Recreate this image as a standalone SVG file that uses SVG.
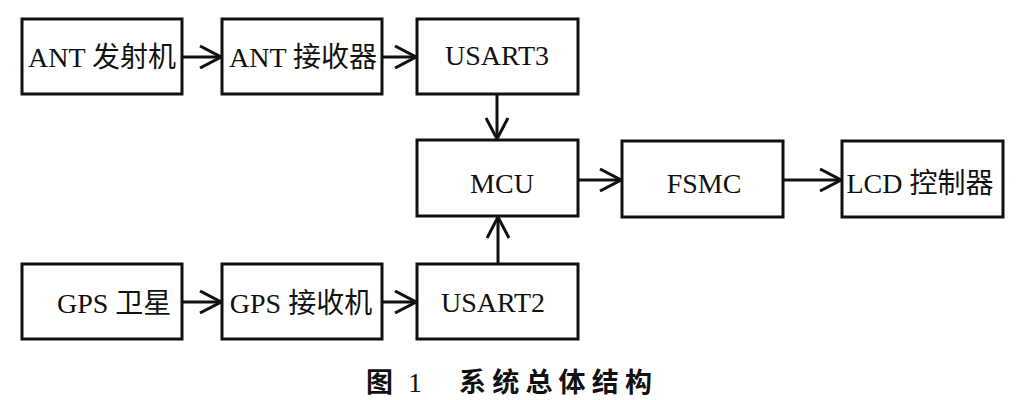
<svg xmlns="http://www.w3.org/2000/svg" width="1017" height="400" viewBox="0 0 1017 400">
<defs>
<style>
.box{fill:#fff;stroke:#111;stroke-width:3}
.lbl{font-family:"Liberation Serif","Noto Sans CJK SC",serif;font-size:28px;fill:#111;text-anchor:middle}
.con{stroke:#111;stroke-width:3;fill:none}
.cap{font-family:"Noto Sans CJK SC","Liberation Sans",sans-serif;font-size:27px;font-weight:bold;fill:#111}
</style>
<marker id="ah" viewBox="0 0 24 24" markerWidth="24" markerHeight="24" refX="22" refY="12" orient="auto" markerUnits="userSpaceOnUse">
<path d="M1,1 L22,12 L1,23" fill="none" stroke="#111" stroke-width="3"/>
</marker>
</defs>
<rect width="1017" height="400" fill="#fff"/>
<g id="ant_tx"><rect class="box" x="22" y="19" width="160" height="75"/><text class="lbl" x="102" y="67">ANT 发射机</text></g>
<g id="ant_rx"><rect class="box" x="222" y="19" width="160" height="75"/><text class="lbl" x="303" y="67">ANT 接收器</text></g>
<g id="usart3"><rect class="box" x="417" y="19" width="161" height="75"/><text class="lbl" x="497" y="65">USART3</text></g>
<g id="mcu"><rect class="box" x="417" y="140" width="161" height="76"/><text class="lbl" x="502" y="193">MCU</text></g>
<g id="fsmc"><rect class="box" x="622" y="141" width="161" height="76"/><text class="lbl" x="704" y="193">FSMC</text></g>
<g id="lcd"><rect class="box" x="842" y="141" width="161" height="76"/><text class="lbl" x="920" y="193">LCD 控制器</text></g>
<g id="gps_sat"><rect class="box" x="22" y="264" width="160" height="75"/><text class="lbl" x="57" y="313" style="text-anchor:start">GPS 卫星</text></g>
<g id="gps_rx"><rect class="box" x="222" y="264" width="160" height="75"/><text class="lbl" x="301" y="313">GPS 接收机</text></g>
<g id="usart2"><rect class="box" x="417" y="264" width="161" height="75"/><text class="lbl" x="493" y="312">USART2</text></g>
<g id="connectors">
<line class="con" x1="182" y1="57" x2="221" y2="57" marker-end="url(#ah)"/>
<line class="con" x1="382" y1="57" x2="416" y2="57" marker-end="url(#ah)"/>
<line class="con" x1="497" y1="94" x2="497" y2="139" marker-end="url(#ah)"/>
<line class="con" x1="578" y1="180" x2="621" y2="180" marker-end="url(#ah)"/>
<line class="con" x1="783" y1="180" x2="841" y2="180" marker-end="url(#ah)"/>
<line class="con" x1="182" y1="302" x2="221" y2="302" marker-end="url(#ah)"/>
<line class="con" x1="382" y1="302" x2="416" y2="302" marker-end="url(#ah)"/>
<line class="con" x1="498" y1="264" x2="498" y2="217" marker-end="url(#ah)"/>
</g>
<g id="caption">
<text class="cap" x="366" y="392">图</text>
<text x="408" y="392" style="font-family:'Liberation Serif',serif;font-size:28px;fill:#111">1</text>
<text class="cap" x="459" y="392" textLength="193" lengthAdjust="spacing">系统总体结构</text>
</g>
</svg>
